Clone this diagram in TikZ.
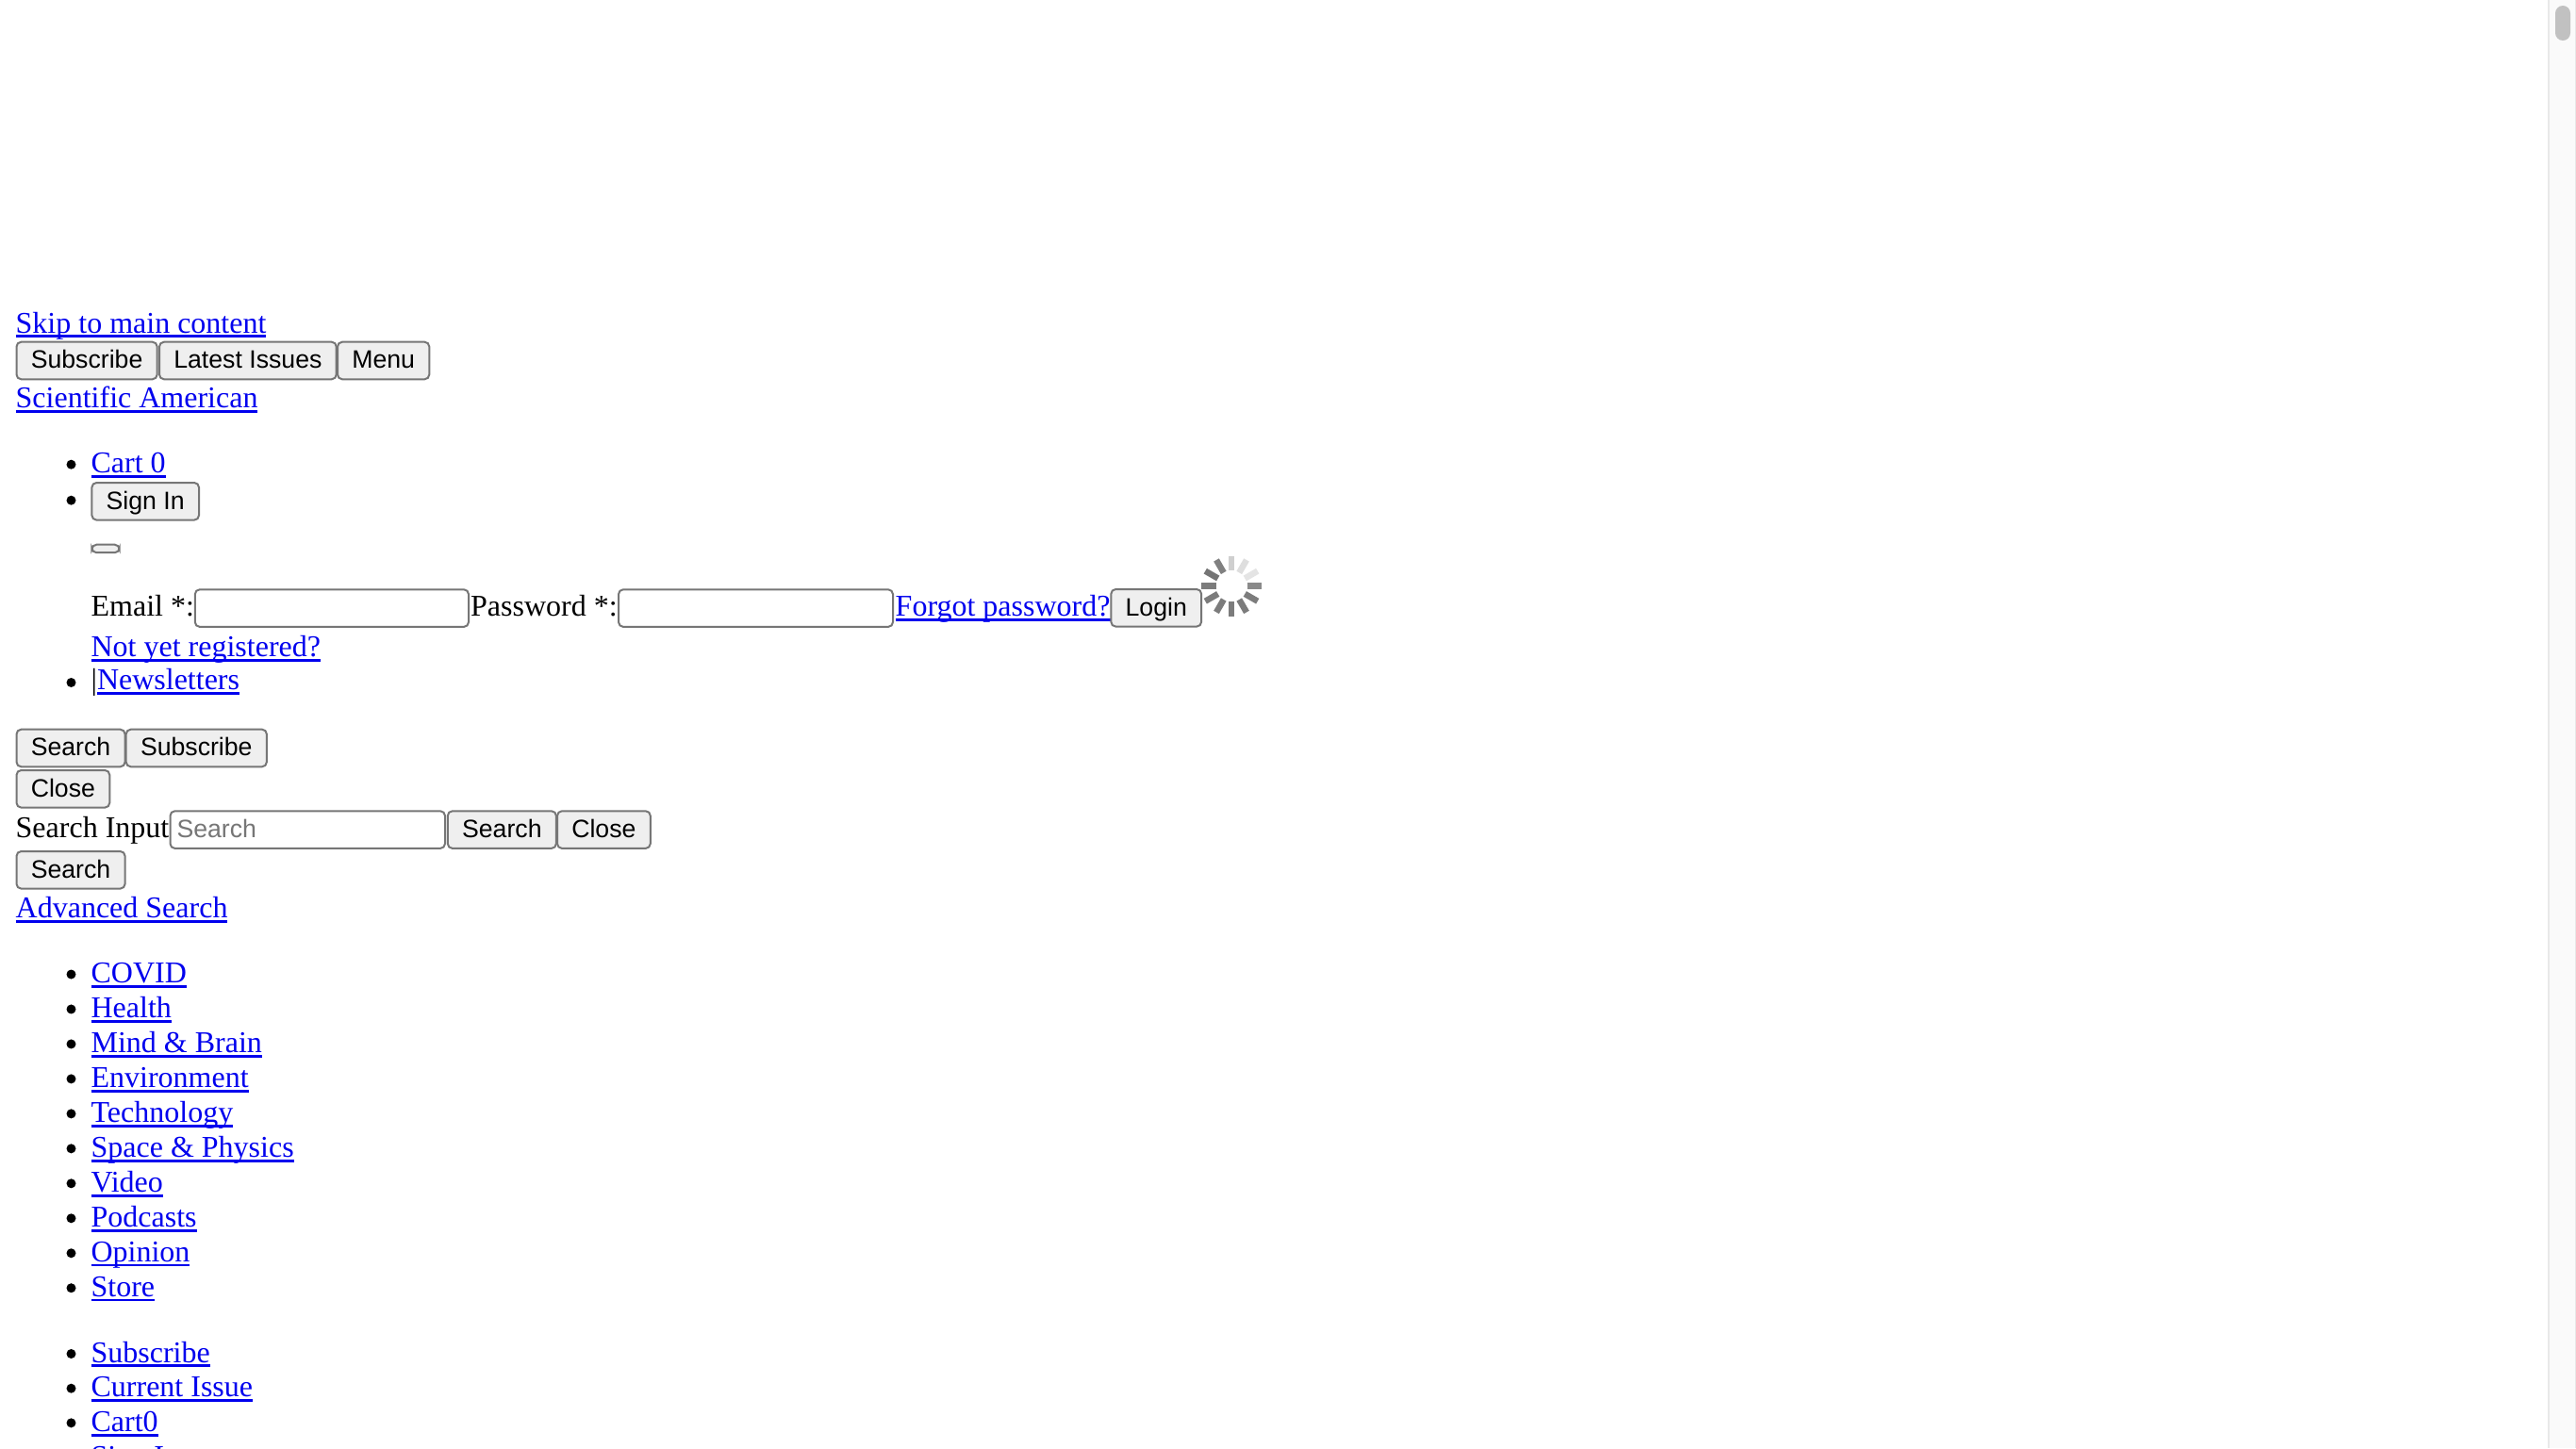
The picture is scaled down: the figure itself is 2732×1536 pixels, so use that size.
\documentclass[tikz,border=0pt]{standalone}
\usepackage{fontspec}
\setmainfont{Liberation Serif}
\newfontfamily\uifont{Liberation Sans}
\usepackage{tikz}

\definecolor{linkblue}{HTML}{0000EE}
\definecolor{btnfill}{HTML}{EFEFEF}
\definecolor{btnedge}{HTML}{767676}
\definecolor{trackfill}{HTML}{FAFAFA}
\definecolor{trackedge}{HTML}{E8E8E8}
\definecolor{thumbfill}{HTML}{C1C1C1}

% link text with its underline
\newcommand{\linktext}[1]{\setbox0\hbox{#1}\rlap{\copy0}\rule[-5.2pt]{\wd0}{2.8pt}}

\tikzset{
    plain/.style={anchor=base west, inner sep=0pt, font=\fontsize{32}{37}\selectfont},
    link/.style={plain, text=linkblue},
    btn/.style={anchor=base west, draw=btnedge, fill=btnfill, line width=2pt, rounded corners=5pt,
        inner xsep=15.3pt, inner ysep=0pt, text height=28pt, text depth=11.6pt,
        font=\uifont\fontsize{26.67}{30}\selectfont},
    field/.style={btn, fill=white, inner xsep=0pt},
    dot/.style={circle, fill=black, inner sep=0pt, minimum size=10pt}
}

\begin{document}
\begin{tikzpicture}[x=1pt, y=-1pt]
    \useasboundingbox (0,0) rectangle (2732,1536);
    \clip (0,0) rectangle (2732,1536);
    \fill[white] (0,0) rectangle (2732,1536);

    % Scrollbar
    \fill[trackfill] (2703,0) rectangle (2732,1536);
    \draw[trackedge, line width=2pt] (2703,0) -- (2703,1536);
    \draw[trackedge, line width=1pt] (2731.5,0) -- (2731.5,1536);
    \fill[thumbfill, rounded corners=8pt] (2710,6) rectangle (2726,43);

    % Top links and buttons
    \node[link] (skip) at (16.5,353) {\linktext{Skip to main content}};
    \node[btn] (topsub) at (16.5,390.7) {Subscribe};
    \node[btn] (toplatest) at (168,390.7) {Latest Issues};
    \node[btn] (topmenu) at (357,390.7) {Menu};
    \node[link] (brand) at (16.5,432.7) {\linktext{Scientific American}};

    % Account list
    \node[dot] (dotcart) at (75.5,492.7) {};
    \node[link] (cart) at (96.4,501.7) {\linktext{Cart 0}};
    \node[dot] (dotsign) at (75.5,530.7) {};
    \node[btn] (signin) at (96.4,540) {Sign In};
    \node[btn, inner xsep=0pt, minimum width=29.3pt, text height=7.6pt, text depth=0.9pt] (tiny) at (96.4,585.3) {};

    % Login row
    \node[plain] (emaillabel) at (96.4,653.3) {Email *:};
    \node[field, minimum width=290.2pt] (email) at (205.8,653.3) {};
    \node[plain] (passlabel) at (499,653.3) {Password *:};
    \node[field, minimum width=291pt] (pass) at (655,653.3) {};
    \node[link] (forgot) at (949.5,653.3) {\linktext{Forgot password?}};
    \node[btn] (login) at (1177.3,653) {Login};
    \node[link] (register) at (96.4,696.7) {\linktext{Not yet registered?}};
    \node[dot] (dotnews) at (75.5,724) {};
    \node[plain] (bar) at (96.4,731.7) {|};
    \node[link] (news) at (102.8,731.7) {\linktext{Newsletters}};

    % Spinner
    \foreach \hr/\shade in {12/CFCFCF, 1/DEDEDE, 2/E4E4E4, 3/8A8A8A, 4/7C7C7C, 5/7C7C7C,
        6/7C7C7C, 7/7C7C7C, 8/7C7C7C, 9/7C7C7C, 10/757575, 11/808080} {
        \definecolor{spoke}{HTML}{\shade}
        \draw[spoke, line width=6.5pt] (1306,621.7) ++(\hr*30-90:16.5) -- ++(\hr*30-90:15.5);
    }

    % Search block
    \node[btn] (searchbtn) at (16.5,801.7) {Search};
    \node[btn] (subbtn) at (132.7,801.7) {Subscribe};
    \node[btn] (closebtn) at (16.5,845) {Close};
    \node[plain] (searchlabel) at (16.5,888.3) {Search Input};
    \node[field, minimum width=291.5pt] (searchfield) at (179.5,888.3) {};
    \node[anchor=base west, inner sep=0pt, text=btnedge, font=\uifont\fontsize{26.67}{30}\selectfont]
        (holder) at (187.3,888) {Search};
    \node[btn] (searchgo) at (473.8,888.3) {Search};
    \node[btn] (closego) at (590,888.3) {Close};
    \node[btn] (searchlow) at (16.5,931) {Search};
    \node[link] (advanced) at (16.5,973.3) {\linktext{Advanced Search}};

    % Section list
    \foreach \txt [count=\i from 0] in {COVID, Health, Mind \& Brain, Environment, Technology,
        Space \& Physics, Video, Podcasts, Opinion, Store} {
        \node[dot] (dotsec\i) at (75.5,1033.5+36.97*\i) {};
        \node[link] (sec\i) at (96.4,1042.5+36.97*\i) {\linktext{\txt}};
    }

    % Lower list
    \foreach \txt [count=\i from 0] in {Subscribe, Current Issue, Cart0, Sign In} {
        \node[dot] (dotlow\i) at (75.5,1436+36.67*\i) {};
        \node[link] (low\i) at (96.4,1445+36.67*\i) {\linktext{\txt}};
    }
\end{tikzpicture}
\end{document}
